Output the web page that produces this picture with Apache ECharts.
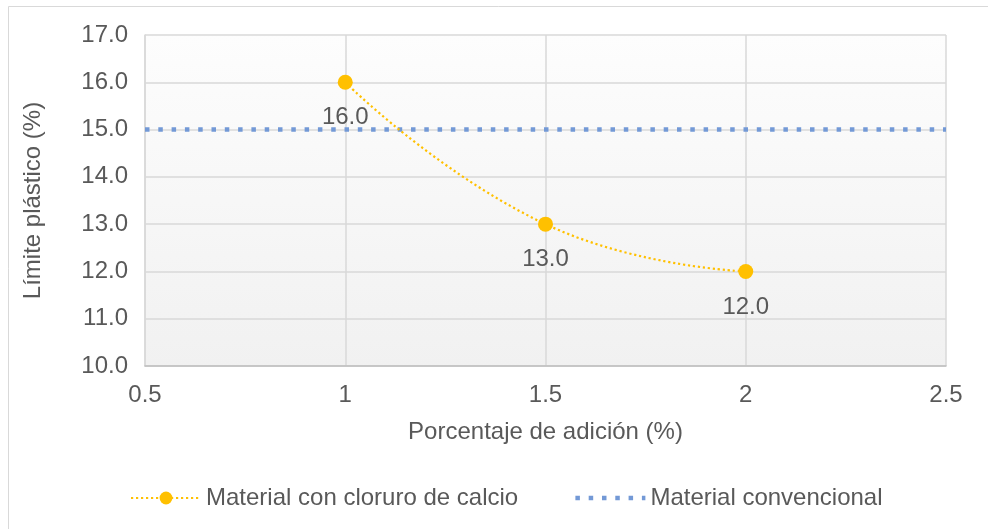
<!DOCTYPE html>
<html>
<head>
<meta charset="utf-8">
<script src="https://cdn.jsdelivr.net/npm/echarts@6/dist/echarts.min.js"></script>
<style>
  html, body { margin: 0; padding: 0; background: #ffffff; }
  #chart { width: 988px; height: 529px; }
</style>
</head>
<body>
<div id="chart"></div>
<script>
// Porcentaje de adición (%) and límite plástico (%)
const adicion = [1, 1.5, 2];
const limiteCloruro = [16.0, 13.0, 12.0];
const limiteConvencional = 15.0;
const xRange = [0.5, 2.5];
const yRange = [10, 17];

const serieCloruro = 'Material con cloruro de calcio';
const serieConvencional = 'Material convencional';

const textColor = '#595959';
const gridColor = '#d9d9d9';
const fontFamily = '"Liberation Sans", Arial, sans-serif';
const fontSize = 24;

const blueDash = { color: '#7399d6', width: 4.5, type: [4.5, 8.8] };

const chart = echarts.init(document.getElementById('chart'), null, { renderer: 'canvas' });

chart.setOption({
  animation: false,
  backgroundColor: '#ffffff',
  textStyle: { fontFamily: fontFamily, color: textColor },
  graphic: [{
    type: 'rect',
    shape: { x: 8.5, y: 6.5, width: 1000, height: 540 },
    style: { fill: 'none', stroke: '#d9d9d9', lineWidth: 1 },
    silent: true,
    z: -10
  }],
  grid: {
    left: 145, right: 42, top: 35, bottom: 163,
    show: true,
    borderWidth: 0,
    backgroundColor: new echarts.graphic.LinearGradient(0, 0, 0, 1, [
      { offset: 0, color: '#fdfdfd' },
      { offset: 1, color: '#f1f1f1' }
    ])
  },
  legend: {
    left: 125, top: 481,
    itemWidth: 70, itemHeight: 16,
    itemGap: 55,
    textStyle: { fontSize: fontSize, color: textColor, fontFamily: fontFamily },
    data: [
      { name: serieCloruro },
      {
        name: serieConvencional,
        itemStyle: { opacity: 0 },
        lineStyle: blueDash
      }
    ]
  },
  xAxis: {
    type: 'value',
    min: xRange[0], max: xRange[1], interval: 0.5,
    name: 'Porcentaje de adición (%)',
    nameLocation: 'middle',
    nameGap: 54,
    nameTextStyle: { fontSize: fontSize, color: textColor, fontFamily: fontFamily },
    axisLine: { show: true, lineStyle: { color: '#bfbfbf', width: 1.5 } },
    axisTick: { show: false },
    axisLabel: {
      fontSize: fontSize, color: textColor, margin: 17, fontFamily: fontFamily,
      formatter: v => String(v)
    },
    splitLine: { show: true, lineStyle: { color: gridColor, width: 1.5 } }
  },
  yAxis: {
    type: 'value',
    min: yRange[0], max: yRange[1], interval: 1,
    name: 'Límite plástico (%)',
    nameLocation: 'middle',
    nameGap: 100,
    nameTextStyle: { fontSize: fontSize, color: textColor, fontFamily: fontFamily },
    axisLine: { show: true, lineStyle: { color: gridColor, width: 1.5 } },
    axisTick: { show: false },
    axisLabel: {
      fontSize: fontSize, color: textColor, margin: 17, fontFamily: fontFamily,
      formatter: v => v.toFixed(1)
    },
    splitLine: { show: true, lineStyle: { color: gridColor, width: 1.5 } }
  },
  series: [
    {
      name: serieCloruro,
      type: 'line',
      data: adicion.map((x, i) => [x, limiteCloruro[i]]),
      smooth: 0.5,
      symbol: 'circle',
      symbolSize: 15,
      itemStyle: { color: '#ffc000' },
      lineStyle: { color: '#ffc000', width: 2.2, type: [2.2, 2.8] },
      label: {
        show: true,
        position: 'bottom',
        distance: 16,
        fontSize: fontSize,
        color: textColor,
        fontFamily: fontFamily,
        formatter: p => p.value[1].toFixed(1)
      },
      z: 3
    },
    {
      name: serieConvencional,
      type: 'line',
      data: xRange.map(x => [x, limiteConvencional]),
      symbol: 'none',
      showSymbol: false,
      itemStyle: { color: '#7399d6' },
      lineStyle: blueDash,
      z: 2
    }
  ]
});
</script>
</body>
</html>
